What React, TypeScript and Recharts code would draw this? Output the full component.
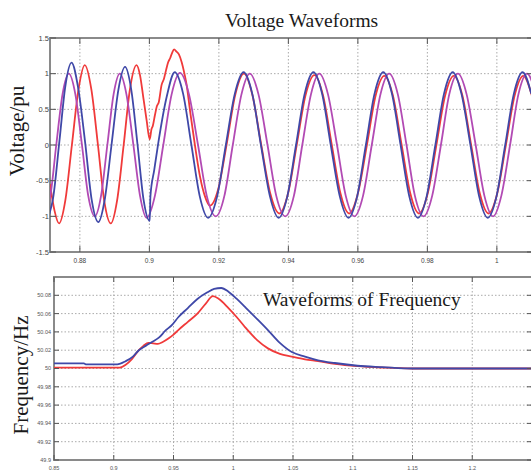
import React from 'react';
import { LineChart, Line, XAxis, YAxis, CartesianGrid, ReferenceArea } from 'recharts';

// ---------- Voltage chart data ----------
const voltTimeTicks = [0.88, 0.9, 0.92, 0.94, 0.96, 0.98, 1];
const voltTicks = [-1.5, -1, -0.5, 0, 0.5, 1, 1.5];
const voltTimeDomain: [number, number] = [0.8714, 1.0104];
const voltDomain: [number, number] = [-1.5, 1.5];

const redVolt: [number, number][] = [
  [0.8714, -0.55], [0.8727, -0.92], [0.874, -1.1], [0.8758, -0.78], [0.8777, 0.0], [0.8796, 0.78],
  [0.8814, 1.12], [0.8833, 0.78], [0.8852, 0.0], [0.887, -0.78], [0.8889, -1.1], [0.8907, -0.78],
  [0.8926, 0.0], [0.8944, 0.78], [0.8963, 1.12], [0.8973, 0.98], [0.8983, 0.65], [0.8992, 0.35],
  [0.9001, 0.08], [0.9006, 0.22], [0.901, 0.27], [0.9016, 0.42], [0.9022, 0.55], [0.9027, 0.6],
  [0.9035, 0.84], [0.9042, 0.93], [0.9048, 1.05], [0.9054, 1.16], [0.906, 1.22], [0.9066, 1.3],
  [0.9071, 1.34], [0.9078, 1.31], [0.9085, 1.27], [0.9093, 1.16], [0.91, 1.02], [0.9107, 0.85],
  [0.9117, 0.48], [0.9131, 0.0], [0.9146, -0.45], [0.916, -0.72], [0.9174, -0.85], [0.9198, -0.62],
  [0.9222, 0.0], [0.9247, 0.7], [0.9272, 1.0], [0.9297, 0.69], [0.9322, 0.0], [0.9348, -0.68],
  [0.9374, -0.96], [0.9399, -0.68], [0.9424, 0.0], [0.9449, 0.69], [0.9475, 0.98], [0.95, 0.69],
  [0.9525, 0.0], [0.955, -0.68], [0.9575, -0.96], [0.96, -0.68], [0.9626, 0.0], [0.9651, 0.69],
  [0.9676, 0.97], [0.9701, 0.69], [0.9726, 0.0], [0.9751, -0.68], [0.9776, -0.96], [0.9801, -0.68],
  [0.9826, 0.0], [0.9851, 0.69], [0.9876, 0.97], [0.9901, 0.69], [0.9926, 0.0], [0.9951, -0.68],
  [0.9976, -0.96], [1.0001, -0.68], [1.0026, 0.0], [1.0051, 0.69], [1.0076, 0.97], [1.0101, 0.69],
];

const purpleVolt: [number, number][] = [
  [0.871, -0.82], [0.8715, -0.71], [0.8732, 0.0], [0.875, 0.71], [0.8768, 1.0], [0.8787, 0.71],
  [0.8806, 0.0], [0.8824, -0.71], [0.8843, -1.0], [0.8861, -0.71], [0.8879, 0.0], [0.8897, 0.71],
  [0.8915, 1.0], [0.8934, 0.71], [0.8954, 0.0], [0.8973, -0.71], [0.8992, -1.02], [0.9016, -0.71],
  [0.904, 0.0], [0.9064, 0.71], [0.9088, 1.01], [0.9114, 0.71], [0.914, 0.0], [0.9165, -0.71],
  [0.9191, -1.0], [0.9216, -0.71], [0.924, 0.0], [0.9265, 0.71], [0.9289, 1.0], [0.9314, 0.71],
  [0.934, 0.0], [0.9365, -0.71], [0.9391, -1.0], [0.9416, -0.71], [0.944, 0.0], [0.9465, 0.71],
  [0.9489, 1.0], [0.9514, 0.71], [0.954, 0.0], [0.9565, -0.71], [0.959, -1.0], [0.9615, -0.71],
  [0.964, 0.0], [0.9665, 0.71], [0.969, 1.0], [0.9715, 0.71], [0.974, 0.0], [0.9764, -0.71],
  [0.9789, -1.0], [0.9814, -0.71], [0.9839, 0.0], [0.9863, 0.71], [0.9888, 1.0], [0.9913, 0.71],
  [0.9939, 0.0], [0.9964, -0.71], [0.9989, -1.0], [1.0013, -0.71], [1.0038, 0.0], [1.0062, 0.71],
  [1.0087, 1.0], [1.0112, 0.71],
];

const blueVolt: [number, number][] = [
  [0.8712, -0.97], [0.8723, -0.74], [0.8741, 0.05], [0.8758, 0.82], [0.8776, 1.155], [0.8795, 0.8],
  [0.8815, 0.04], [0.8834, -0.77], [0.8853, -1.08], [0.8872, -0.75], [0.8891, 0.0], [0.8911, 0.78],
  [0.893, 1.094], [0.8948, 0.77], [0.8966, 0.0], [0.8983, -0.76], [0.9001, -1.065], [0.9003, -0.72],
  [0.9014, -0.35], [0.9026, 0.04], [0.905, 0.68], [0.9073, 1.02], [0.9097, 0.72], [0.9121, 0.0],
  [0.9145, -0.72], [0.9169, -1.02], [0.9195, -0.72], [0.922, 0.0], [0.9246, 0.72], [0.9271, 1.02],
  [0.9296, 0.72], [0.9321, 0.0], [0.9347, -0.72], [0.9372, -1.02], [0.9397, -0.72], [0.9422, 0.0],
  [0.9447, 0.72], [0.9472, 1.02], [0.9497, 0.72], [0.9522, 0.0], [0.9548, -0.72], [0.9573, -1.02],
  [0.9598, -0.72], [0.9623, 0.0], [0.9648, 0.72], [0.9673, 1.02], [0.9698, 0.72], [0.9723, 0.0],
  [0.9748, -0.72], [0.9773, -1.02], [0.9798, -0.72], [0.9823, 0.0], [0.9848, 0.72], [0.9873, 1.02],
  [0.9898, 0.72], [0.9924, 0.0], [0.9949, -0.72], [0.9974, -1.02], [0.9999, -0.72], [1.0024, 0.0],
  [1.0049, 0.72], [1.0074, 1.02], [1.0099, 0.72],
];

// ---------- Frequency chart data ----------
const freqTimeTicks = [0.85, 0.9, 0.95, 1, 1.05, 1.1, 1.15, 1.2];
const freqTicks = [49.9, 49.92, 49.94, 49.96, 49.98, 50, 50.02, 50.04, 50.06, 50.08];
const freqTimeDomain: [number, number] = [0.85, 1.25];
const freqDomain: [number, number] = [49.9, 50.1];

const blueFreq: [number, number][] = [
  [0.85, 50.0055], [0.875, 50.0055], [0.877, 50.0045], [0.903, 50.0045], [0.91, 50.008],
  [0.916, 50.013], [0.921, 50.02], [0.927, 50.025], [0.932, 50.029], [0.938, 50.034],
  [0.943, 50.041], [0.949, 50.048], [0.954, 50.056], [0.962, 50.066], [0.97, 50.076],
  [0.978, 50.083], [0.984, 50.087], [0.99, 50.088], [0.996, 50.084], [1.003, 50.076],
  [1.01, 50.067], [1.02, 50.054], [1.029, 50.042], [1.039, 50.028], [1.049, 50.018],
  [1.06, 50.013], [1.071, 50.009], [1.085, 50.006], [1.104, 50.003], [1.125, 50.0015],
  [1.15, 50.0], [1.25, 50.0],
];

const redFreq: [number, number][] = [
  [0.85, 50.001], [0.905, 50.001], [0.91, 50.004], [0.915, 50.01], [0.921, 50.02],
  [0.925, 50.025], [0.929, 50.028], [0.933, 50.0275], [0.937, 50.027], [0.941, 50.029],
  [0.946, 50.033], [0.95, 50.037], [0.954, 50.042], [0.962, 50.051], [0.97, 50.06],
  [0.977, 50.071], [0.983, 50.079], [0.988, 50.076], [0.996, 50.066], [1.003, 50.056],
  [1.01, 50.045], [1.02, 50.031], [1.029, 50.022], [1.039, 50.016], [1.049, 50.013],
  [1.06, 50.01], [1.071, 50.008], [1.085, 50.005], [1.104, 50.0025], [1.125, 50.001],
  [1.15, 50.0], [1.25, 50.0],
];

const toPts = (pairs: [number, number][]) => pairs.map(([t, v]) => ({ t, v }));

// ---------- styling ----------
const RED = '#f03a3a';
const BLUE = '#3f48a8';
const PURPLE = '#b24ab4';
const FRAME = '#8a8a8a';
const TICKCOL = '#555';
const GRID = '#aaaaaa';

const V_W = 483;
const V_H = 214;
const F_W = 478;
const F_H = 183;

const VoltXTick = (p: any) => {
  const { x, y, payload } = p;
  return (
    <g>
      <line x1={x} x2={x} y1={y} y2={y - 6} stroke={TICKCOL} strokeWidth={1} />
      <line x1={x} x2={x} y1={y - V_H} y2={y - V_H + 6} stroke={TICKCOL} strokeWidth={1} />
      <text x={x} y={y + 11} textAnchor="middle" fontSize={6.5} fill="#444" fontFamily="Liberation Sans">
        {String(payload.value)}
      </text>
    </g>
  );
};

const VoltYTick = (p: any) => {
  const { x, y, payload } = p;
  return (
    <g>
      <line x1={x} x2={x + 6} y1={y} y2={y} stroke={TICKCOL} strokeWidth={1} />
      <line x1={x + V_W - 6} x2={x + V_W} y1={y} y2={y} stroke={TICKCOL} strokeWidth={1} />
      <text x={x - 1} y={y} dy="0.35em" textAnchor="end" fontSize={7.5} fill="#444" fontFamily="Liberation Sans">
        {String(payload.value)}
      </text>
    </g>
  );
};

const FreqXTick = (p: any) => {
  const { x, y, payload } = p;
  return (
    <g>
      <line x1={x} x2={x} y1={y} y2={y - 5} stroke={TICKCOL} strokeWidth={1} />
      <line x1={x} x2={x} y1={y - F_H} y2={y - F_H + 5} stroke={TICKCOL} strokeWidth={1} />
      <text x={x} y={y + 10} textAnchor="middle" fontSize={5.5} fill="#555" fontFamily="Liberation Sans">
        {String(payload.value)}
      </text>
    </g>
  );
};

const FreqYTick = (p: any) => {
  const { x, y, payload } = p;
  return (
    <g>
      <line x1={x} x2={x + 5} y1={y} y2={y} stroke={TICKCOL} strokeWidth={1} />
      <line x1={x + F_W - 5} x2={x + F_W} y1={y} y2={y} stroke={TICKCOL} strokeWidth={1} />
      <text x={x - 3} y={y} dy="0.35em" textAnchor="end" fontSize={5.5} fill="#555" fontFamily="Liberation Sans">
        {String(payload.value)}
      </text>
    </g>
  );
};

export default function App() {
  return (
    <div style={{ position: 'absolute', left: 0, top: 0, width: 531, height: 472, overflow: 'hidden', background: '#fff' }}>
      <div style={{ position: 'absolute', left: 0, top: 0 }}>
        <LineChart width={545} height={265} margin={{ top: 38, right: 12, bottom: 0, left: 0 }}>
          <CartesianGrid stroke={GRID} strokeDasharray="1.5 2" />
          <XAxis
            type="number"
            dataKey="t"
            domain={voltTimeDomain}
            ticks={voltTimeTicks}
            interval={0}
            allowDataOverflow
            height={13}
            axisLine={false}
            tickLine={false}
            tickSize={0}
            tickMargin={0}
            tick={(p: any) => <VoltXTick {...p} />}
          />
          <YAxis
            type="number"
            domain={voltDomain}
            ticks={voltTicks}
            interval={0}
            allowDataOverflow
            width={50}
            axisLine={false}
            tickLine={false}
            tickSize={0}
            tickMargin={0}
            tick={(p: any) => <VoltYTick {...p} />}
          />
          <Line data={toPts(redVolt)} dataKey="v" type="monotone" stroke={RED} strokeWidth={1.8} dot={false} isAnimationActive={false} />
          <Line data={toPts(purpleVolt)} dataKey="v" type="monotone" stroke={PURPLE} strokeWidth={1.8} dot={false} isAnimationActive={false} />
          <Line data={toPts(blueVolt)} dataKey="v" type="monotone" stroke={BLUE} strokeWidth={1.8} dot={false} isAnimationActive={false} />
          <ReferenceArea x1={voltTimeDomain[0]} x2={voltTimeDomain[1]} y1={voltDomain[0]} y2={voltDomain[1]} fill="none" fillOpacity={0} stroke={FRAME} strokeWidth={2} ifOverflow="visible" />
        </LineChart>
      </div>
      <div style={{ position: 'absolute', left: 0, top: 265 }}>
        <LineChart width={545} height={207} margin={{ top: 12, right: 13, bottom: 0, left: 0 }}>
          <CartesianGrid stroke={GRID} strokeDasharray="1.5 2" />
          <XAxis
            type="number"
            dataKey="t"
            domain={freqTimeDomain}
            ticks={freqTimeTicks}
            interval={0}
            allowDataOverflow
            height={12}
            axisLine={false}
            tickLine={false}
            tickSize={0}
            tickMargin={0}
            tick={(p: any) => <FreqXTick {...p} />}
          />
          <YAxis
            type="number"
            domain={freqDomain}
            ticks={freqTicks}
            interval={0}
            allowDataOverflow
            width={54}
            axisLine={false}
            tickLine={false}
            tickSize={0}
            tickMargin={0}
            tick={(p: any) => <FreqYTick {...p} />}
          />
          <Line data={toPts(redFreq)} dataKey="v" type="monotone" stroke={RED} strokeWidth={1.8} dot={false} isAnimationActive={false} />
          <Line data={toPts(blueFreq)} dataKey="v" type="monotone" stroke={BLUE} strokeWidth={1.8} dot={false} isAnimationActive={false} />
          <ReferenceArea x1={freqTimeDomain[0]} x2={freqTimeDomain[1]} y1={freqDomain[0]} y2={freqDomain[1]} fill="none" fillOpacity={0} stroke={FRAME} strokeWidth={2} ifOverflow="visible" />
        </LineChart>
      </div>
      <svg width={531} height={472} style={{ position: 'absolute', left: 0, top: 0, pointerEvents: 'none' }}>
        <g fontFamily="Liberation Serif" fill="#1a1a1a">
          <text x={225} y={27} fontSize={19.5}>Voltage Waveforms</text>
          <text x={263} y={305.5} fontSize={19.5}>Waveforms of Frequency</text>
          <text transform="translate(24,131) rotate(-90)" textAnchor="middle" fontSize={21}>Voltage/pu</text>
          <text transform="translate(27.5,375) rotate(-90)" textAnchor="middle" fontSize={21}>Frequency/Hz</text>
        </g>
      </svg>
    </div>
  );
}
